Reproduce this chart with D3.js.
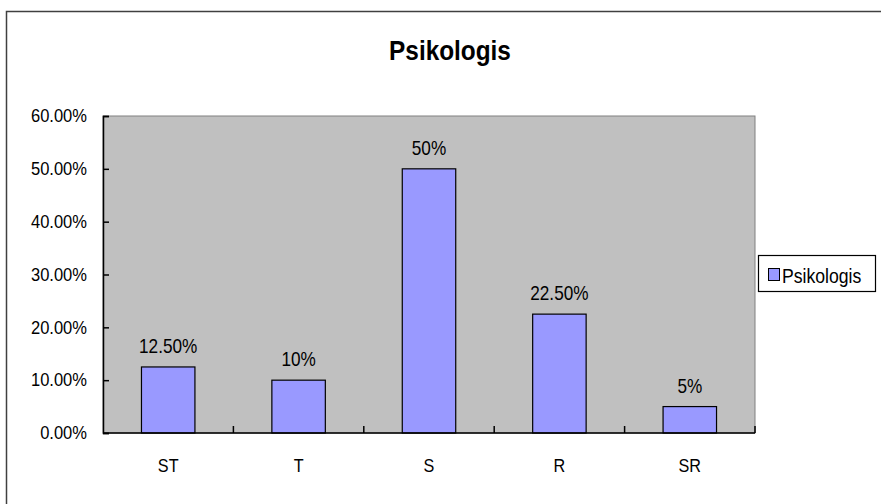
<html>
<head>
  <title>Psikologis</title>
  <script src="https://d3js.org/d3.v7.min.js"></script>
  <style>
    body { margin: 0; background: #fff; }
    text { font-family: "Liberation Sans", Arial, sans-serif; }
  </style>
</head>
<body>
<div class="chart"></div>
<script>
var categories = ["ST", "T", "S", "R", "SR"];
var values = [12.5, 10, 50, 22.5, 5];
var valueLabels = ["12.50%", "10%", "50%", "22.50%", "5%"];
var yTicks = [0, 10, 20, 30, 40, 50, 60];
var seriesName = "Psikologis";

var width = 881, height = 504;
var plot = { left: 103, right: 755, top: 116, bottom: 433 };
var squeeze = 0.87; // text in the picture is drawn narrow

var svg = d3.select(".chart")
  .append("svg")
  .attr("width", width)
  .attr("height", height);

// outer chart frame
svg.append("rect")
  .attr("x", 6.5).attr("y", 11.5)
  .attr("width", 900).attr("height", 520)
  .attr("fill", "#fff")
  .attr("stroke", "#404040")
  .attr("stroke-width", 1.5);

var x = d3.scaleBand()
  .domain(categories)
  .range([plot.left, plot.right])
  .paddingInner(0.59)
  .paddingOuter(0.295);

var xEdges = d3.scaleLinear()
  .domain([0, categories.length])
  .range([plot.left, plot.right]);

var y = d3.scaleLinear()
  .domain([0, 60])
  .range([plot.bottom, plot.top]);

function narrowText(sel, px, py, size, sx) {
  return sel.append("text")
    .attr("transform", "translate(" + px + "," + py + ") scale(" + sx + ",1)")
    .attr("font-size", size)
    .attr("fill", "#000");
}

// plot area
svg.append("rect")
  .attr("x", plot.left).attr("y", plot.top)
  .attr("width", plot.right - plot.left)
  .attr("height", plot.bottom - plot.top)
  .attr("fill", "#c0c0c0")
  .attr("stroke", "#808080")
  .attr("stroke-width", 1);

// bars
svg.selectAll(".bar")
  .data(values)
  .enter()
  .append("rect")
  .attr("class", "bar")
  .attr("x", function (d, i) { return x(categories[i]); })
  .attr("y", function (d) { return y(d); })
  .attr("width", x.bandwidth())
  .attr("height", function (d) { return y(0) - y(d); })
  .attr("fill", "#9999ff")
  .attr("stroke", "#000")
  .attr("stroke-width", 1.2);

// value labels
values.forEach(function (d, i) {
  narrowText(svg, x(categories[i]) + x.bandwidth() / 2, y(d) - 14, 20, 0.86)
    .attr("text-anchor", "middle")
    .text(valueLabels[i]);
});

// y axis
var yAxis = d3.axisLeft(y)
  .tickValues(yTicks)
  .tickSize(-6)
  .tickFormat(function (d) { return d.toFixed(2) + "%"; });

var gy = svg.append("g")
  .attr("transform", "translate(" + plot.left + ",0)")
  .call(yAxis);
gy.select(".domain").attr("stroke", "#000").attr("stroke-width", 1.5);
gy.selectAll(".tick line").attr("stroke", "#000").attr("stroke-width", 1.5);
gy.selectAll(".tick text")
  .attr("font-size", 19)
  .attr("fill", "#000")
  .attr("x", -16 / squeeze)
  .attr("dy", "0.3em")
  .attr("transform", "scale(" + squeeze + ",1)")
  .style("font-family", "'Liberation Sans', Arial, sans-serif");

// x axis baseline and ticks between categories
svg.append("line")
  .attr("x1", plot.left).attr("x2", plot.right)
  .attr("y1", plot.bottom).attr("y2", plot.bottom)
  .attr("stroke", "#000").attr("stroke-width", 1.5);

svg.selectAll(".xtick")
  .data(d3.range(1, categories.length + 1))
  .enter()
  .append("line")
  .attr("class", "xtick")
  .attr("x1", function (d) { return xEdges(d); })
  .attr("x2", function (d) { return xEdges(d); })
  .attr("y1", plot.bottom)
  .attr("y2", plot.bottom - 7)
  .attr("stroke", "#000").attr("stroke-width", 1.5);

categories.forEach(function (c) {
  narrowText(svg, x(c) + x.bandwidth() / 2, 472, 18, 0.9)
    .attr("text-anchor", "middle")
    .text(c);
});

// title
narrowText(svg, 450, 60, 28, squeeze)
  .attr("text-anchor", "middle")
  .attr("font-weight", "bold")
  .text(seriesName);

// legend
var legend = svg.append("g");
legend.append("rect")
  .attr("x", 758.5).attr("y", 255.5)
  .attr("width", 117).attr("height", 36)
  .attr("fill", "#fff")
  .attr("stroke", "#000")
  .attr("stroke-width", 1.2);
legend.append("rect")
  .attr("x", 768.5).attr("y", 268.5)
  .attr("width", 11).attr("height", 12)
  .attr("fill", "#9999ff")
  .attr("stroke", "#000");
narrowText(legend, 782, 283, 21, 0.84)
  .text(seriesName);
</script>
</body>
</html>
